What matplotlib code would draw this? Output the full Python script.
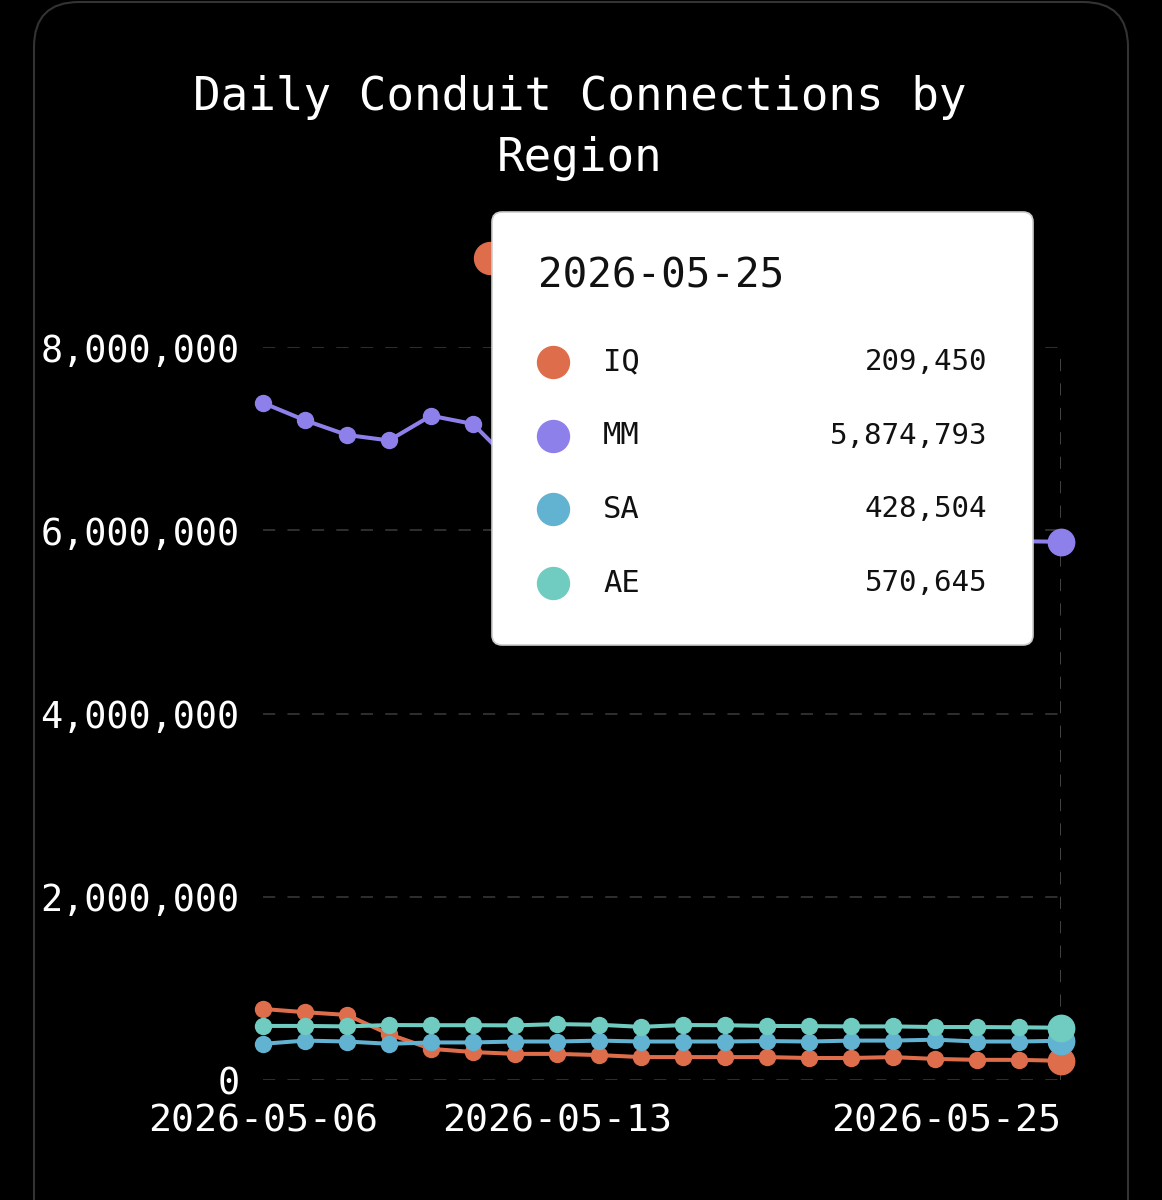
#!/usr/bin/env python3
# Daily conduit connections per region, dark card with a hover tooltip
import matplotlib
matplotlib.use("Agg")
import matplotlib.pyplot as plt
from matplotlib.patches import FancyBboxPatch
from matplotlib.lines import Line2D
from matplotlib.ticker import FuncFormatter

dates = [
    "2026-05-06", "2026-05-07", "2026-05-08", "2026-05-09", "2026-05-10",
    "2026-05-11", "2026-05-12", "2026-05-13", "2026-05-14", "2026-05-15",
    "2026-05-16", "2026-05-17", "2026-05-18", "2026-05-19", "2026-05-20",
    "2026-05-21", "2026-05-22", "2026-05-23", "2026-05-24", "2026-05-25",
]
regions = ["IQ", "MM", "SA", "AE"]
iq = [775000, 740000, 710000, 500000, 340000, 305000, 285000, 285000, 272000, 250000,
      250000, 250000, 250000, 240000, 240000, 250000, 230000, 220000, 220000, 209450]
mm = [7390000, 7200000, 7040000, 6980000, 7250000, 7160000, 6700000, 6500000, 6400000, 6300000,
      6250000, 6200000, 6100000, 6050000, 6000000, 5950000, 5900000, 5900000, 5880000, 5874793]
sa = [395000, 430000, 420000, 395000, 410000, 410000, 420000, 420000, 430000, 420000,
      420000, 420000, 425000, 420000, 430000, 430000, 440000, 420000, 420000, 428504]
ae = [590000, 590000, 585000, 600000, 598000, 598000, 596000, 610000, 603000, 580000,
      600000, 598000, 590000, 588000, 585000, 585000, 578000, 578000, 575000, 570645]
series = [iq, mm, sa, ae]
colors = ["#DE6E4B", "#8E80EA", "#62B2D2", "#70CCC0"]
y_ticks = [0, 2000000, 4000000, 6000000, 8000000]
x_tick_idx = [0, 7, 19]

W, H = 1162, 1200
MONO = "DejaVu Sans Mono"
plt.rcParams["font.family"] = [MONO]


def inch(x, y):
    # pixel position (from top-left) -> inches for dpi_scale_trans
    return x / 100, (H - y) / 100


fig = plt.figure(figsize=(W / 100, H / 100), dpi=100, facecolor="black")

# card outline
cx, cy = inch(34, 1300)
fig.patches.append(FancyBboxPatch(
    (cx, cy), (1128 - 34) / 100, (1300 - 2) / 100,
    boxstyle="round,pad=0,rounding_size=0.45", transform=fig.dpi_scale_trans,
    facecolor="none", edgecolor="#333333", linewidth=1.5, zorder=0.5))

fig.text(580 / W, 1 - 128 / H, "Daily Conduit Connections by\nRegion",
         ha="center", va="center", color="white", fontsize=33, linespacing=1.45)

ax = fig.add_axes([263 / W, 1 - 1080 / H, (1061 - 263) / W, (1080 - 347) / H])
ax.set_facecolor("black")
x = list(range(len(dates)))
for vals, col in zip(series, colors):
    ax.plot(x[:-1], vals[:-1], color=col, lw=2.9, marker="o", ms=11.5,
            clip_on=False, zorder=3)
    ax.plot(x[-2:], vals[-2:], color=col, lw=2.9, clip_on=False, zorder=3)
    ax.plot(x[-1], vals[-1], color=col, marker="o", ms=19, clip_on=False, zorder=4)

ax.set_xlim(0, len(dates) - 1)
ax.set_ylim(0, 8000000)
ax.set_yticks(y_ticks)
ax.yaxis.set_major_formatter(FuncFormatter(lambda v, p: f"{int(v):,}"))
ax.set_xticks(x_tick_idx)
ax.set_xticklabels([dates[i] for i in x_tick_idx])
ax.get_xticklabels()[-1].set_horizontalalignment("right")
ax.tick_params(axis="y", length=0, pad=17, labelsize=26.5, labelcolor="white")
ax.tick_params(axis="x", length=0, pad=17, labelsize=27.5, labelcolor="white")
for s in ax.spines.values():
    s.set_visible(False)
ax.yaxis.grid(True, color="#3c3c3c", linestyle=(0, (8, 8)), linewidth=1.1, zorder=0)
ax.axvline(len(dates) - 1, color="#555555", linestyle=(0, (8, 8)), linewidth=1.1, zorder=1)

# legend icon peeking out from behind the tooltip
lx, ly = inch(490, 258)
fig.add_artist(Line2D([lx], [ly], transform=fig.dpi_scale_trans, marker="o", ms=23,
                      color=colors[0], zorder=2))

# tooltip for the last day
tx, ty = inch(492, 645)
fig.patches.append(FancyBboxPatch(
    (tx, ty), (1033 - 492) / 100, (645 - 212) / 100,
    boxstyle="round,pad=0,rounding_size=0.1", transform=fig.dpi_scale_trans,
    facecolor="white", edgecolor="#cccccc", linewidth=1.2, zorder=10))
dx, dy = inch(538, 277)
fig.text(dx, dy, dates[-1], transform=fig.dpi_scale_trans, ha="left", va="center",
         fontsize=29.5, color="#111111", zorder=11)
for i, (name, vals, col) in enumerate(zip(regions, series, colors)):
    ry = 362 + i * 73.7
    mx, my = inch(553, ry)
    fig.add_artist(Line2D([mx], [my], transform=fig.dpi_scale_trans, marker="o", ms=23,
                          color=col, zorder=11))
    nx, _ = inch(603, ry)
    fig.text(nx, my, name, transform=fig.dpi_scale_trans, ha="left", va="center",
             fontsize=22, color="#111111", zorder=11)
    vx, _ = inch(987, ry)
    fig.text(vx, my, f"{vals[-1]:,}", transform=fig.dpi_scale_trans, ha="right",
             va="center", fontsize=21, color="#111111", zorder=11)

fig.savefig("out.png", dpi=100, facecolor="black")
